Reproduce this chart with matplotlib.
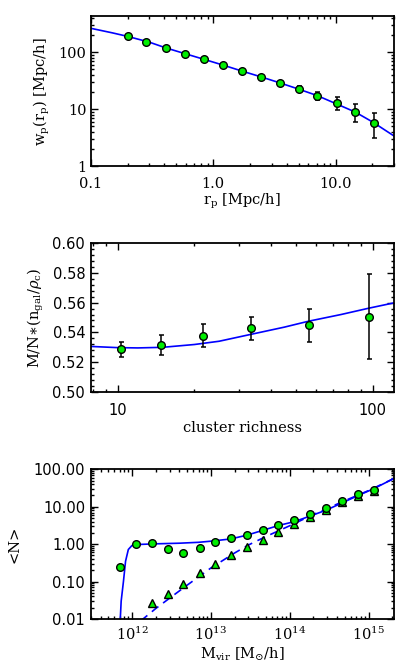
import matplotlib
matplotlib.use("Agg")
import matplotlib.pyplot as plt
from matplotlib.ticker import LogLocator, NullFormatter, FixedLocator, FixedFormatter, MultipleLocator, FormatStrFormatter
import numpy as np

plt.rcParams['mathtext.fontset'] = 'dejavuserif'
plt.rcParams['font.family'] = ['DejaVu Serif']

# ---- Panel 1: projected correlation function ----
rp = [0.2, 0.285, 0.41, 0.59, 0.84, 1.2, 1.71, 2.45, 3.5, 5.0, 7.1, 10.2, 14.5, 20.6]
wp = [190, 151, 117, 93.5, 75.5, 59.5, 46.5, 36.5, 29.0, 22.9, 17.3, 12.7, 9.0, 5.8]
wp_lo = [4, 3, 3, 2.5, 2, 2, 1.5, 1.5, 2, 2.2, 3.0, 2.9, 3.0, 2.7]
wp_hi = [4, 3, 3, 2.5, 2, 2, 1.5, 1.5, 2, 2.2, 2.9, 3.4, 3.2, 2.9]
rp_model = [0.1, 0.15, 0.2, 0.3, 0.41, 0.6, 0.84, 1.2, 1.7, 2.5, 3.5, 5.0, 7.1, 10.0, 14.5, 20.0, 30.0]
wp_model = [262, 218, 189, 150, 119, 93, 75, 59.5, 47, 36.5, 29, 22.5, 17.3, 12.6, 8.9, 6.0, 3.4]

# ---- Panel 2: M/N vs cluster richness ----
rich = [10.3, 14.8, 21.7, 33.4, 56.2, 96.2]
mn = [0.5288, 0.5315, 0.5378, 0.5427, 0.5447, 0.5506]
mn_lo = [0.5236, 0.5247, 0.5303, 0.5348, 0.5335, 0.5222]
mn_hi = [0.5337, 0.5380, 0.5454, 0.5501, 0.5557, 0.5791]
rich_model = [7.85, 10, 12, 15, 20, 25, 33, 45, 56, 75, 96, 122]
mn_model = [0.5305, 0.5297, 0.5295, 0.5299, 0.5318, 0.5340, 0.5385, 0.5435, 0.5475, 0.5520, 0.5562, 0.5600]

# ---- Panel 3: HOD ----
mvir = [7.05e11, 1.12e12, 1.79e12, 2.86e12, 4.5e12, 7.2e12, 1.14e13, 1.82e13, 2.9e13,
        4.57e13, 7.2e13, 1.15e14, 1.82e14, 2.88e14, 4.6e14, 7.25e14, 1.16e15]
n_all = [0.238, 1.04, 1.06, 0.72, 0.59, 0.77, 1.11, 1.42, 1.78, 2.37, 3.22, 4.39, 6.34,
         9.18, 14.4, 21.3, 28.4]
mvir_sat = [1.79e12, 2.86e12, 4.5e12, 7.2e12, 1.14e13, 1.82e13, 2.9e13, 4.57e13, 7.2e13,
            1.15e14, 1.82e14, 2.88e14, 4.6e14, 7.25e14, 1.16e15]
n_sat = [0.026, 0.048, 0.085, 0.168, 0.29, 0.51, 0.85, 1.33, 2.14, 3.36, 5.38, 8.1, 13.0, 19.6, 26.7]
m_tot_model = [7.0e11, 7.3e11, 7.8e11, 8.3e11, 9.0e11, 1.0e12, 1.2e12, 2e12, 4e12, 7e12, 1e13,
               1.8e13, 2.9e13, 4.6e13, 7.2e13, 1.15e14, 1.8e14, 2.9e14, 4.6e14, 7.2e14, 1.15e15, 2.1e15]
n_tot_model = [0.005, 0.03, 0.1, 0.35, 0.72, 0.92, 0.98, 1.02, 1.06, 1.12, 1.2,
               1.38, 1.75, 2.35, 3.15, 4.0, 5.6, 8.1, 12.6, 19.5, 30, 57]
m_sat_model = [1.3e12, 2e12, 3e12, 5e12, 1e13, 2e13, 3e13, 5e13, 1e14, 2e14, 5e14, 1e15, 2.1e15]
n_sat_model = [0.009, 0.019, 0.036, 0.08, 0.23, 0.58, 0.95, 1.6, 3.1, 6.2, 14.5, 27, 57]

fig = plt.figure(figsize=(4.15, 6.72), dpi=100)
W, H = 415.0, 672.0
def axes_px(x0, x1, y0, y1):
    return fig.add_axes([x0 / W, 1 - y1 / H, (x1 - x0) / W, (y1 - y0) / H])

ax1 = axes_px(90.7, 394, 16, 166.3)
ax2 = axes_px(90.7, 394, 243.3, 391.7)
ax3 = axes_px(90.7, 394, 469.3, 619)

green = '#00ee00'
blue = '#0000ff'
SANS = ['DejaVu Sans']
mkw = dict(marker='o', ms=5.5, mfc=green, mec='black', mew=1.0, ls='none', zorder=4)

def style(ax):
    ax.tick_params(which='both', direction='in', top=True, right=True, width=1.0, colors='black')
    ax.tick_params(which='major', length=5)
    ax.tick_params(which='minor', length=2.5)
    for s in ax.spines.values():
        s.set_linewidth(1.3)

LBL = 10.5
TCK = 10.5
STCK = 10.5

# Panel 1
ax1.set_xscale('log'); ax1.set_yscale('log')
ax1.plot(rp_model, wp_model, color=blue, lw=1.2, zorder=2)
ax1.errorbar(rp, wp, yerr=[wp_lo, wp_hi], fmt='none', ecolor='black', elinewidth=1.1, capsize=1.8, capthick=1.1, zorder=3)
ax1.plot(rp, wp, **mkw)
ax1.set_xlim(0.1, 30); ax1.set_ylim(1, 430)
style(ax1)
ax1.xaxis.set_major_locator(FixedLocator([0.1, 1.0, 10.0]))
ax1.xaxis.set_major_formatter(FixedFormatter(['0.1', '1.0', '10.0']))
ax1.yaxis.set_major_locator(FixedLocator([1, 10, 100]))
ax1.yaxis.set_major_formatter(FixedFormatter(['1', '10', '100']))
ax1.xaxis.set_minor_locator(LogLocator(base=10, subs=np.arange(2, 10)))
ax1.yaxis.set_minor_locator(LogLocator(base=10, subs=np.arange(2, 10)))
ax1.xaxis.set_minor_formatter(NullFormatter()); ax1.yaxis.set_minor_formatter(NullFormatter())
ax1.tick_params(axis='x', labelsize=TCK, pad=8)
ax1.tick_params(axis='y', labelsize=TCK, pad=3)
ax1.set_xlabel(r'$\mathrm{r_p}$ [Mpc/h]', fontsize=LBL)
ax1.set_ylabel(r'$\mathrm{w_p(r_p)}$ [Mpc/h]', fontsize=LBL)
ax1.xaxis.label.set_va('center'); ax1.xaxis.set_label_coords(0.5, -0.235)
ax1.yaxis.label.set_va('center'); ax1.yaxis.set_label_coords(-0.16, 0.5)

# Panel 2
ax2.set_xscale('log')
ax2.plot(rich_model, mn_model, color=blue, lw=1.2, zorder=2)
ax2.errorbar(rich, mn, yerr=[np.array(mn) - np.array(mn_lo), np.array(mn_hi) - np.array(mn)],
             fmt='none', ecolor='black', elinewidth=1.1, capsize=1.8, capthick=1.1, zorder=3)
ax2.plot(rich, mn, **mkw)
ax2.set_xlim(7.85, 121); ax2.set_ylim(0.50, 0.60)
style(ax2)
ax2.xaxis.set_major_locator(FixedLocator([10, 100]))
ax2.xaxis.set_major_formatter(FixedFormatter(['10', '100']))
ax2.xaxis.set_minor_locator(LogLocator(base=10, subs=np.arange(2, 10)))
ax2.xaxis.set_minor_formatter(NullFormatter())
ax2.yaxis.set_major_locator(MultipleLocator(0.02))
ax2.yaxis.set_minor_locator(MultipleLocator(0.004))
ax2.yaxis.set_major_formatter(FormatStrFormatter('%.2f'))
ax2.tick_params(axis='x', labelsize=STCK, pad=8)
ax2.tick_params(axis='y', labelsize=STCK, pad=4)
for lab in ax2.get_xticklabels() + ax2.get_yticklabels():
    lab.set_family(SANS)
ax2.set_xlabel('cluster richness', fontsize=LBL)
ax2.set_ylabel(r'M/N$\ast$(n$_{\mathrm{gal}}$/$\rho_{\mathrm{c}}$)', fontsize=LBL)
ax2.xaxis.label.set_va('center'); ax2.xaxis.set_label_coords(0.5, -0.245)
ax2.yaxis.label.set_va('center'); ax2.yaxis.set_label_coords(-0.18, 0.5)

# Panel 3
ax3.set_xscale('log'); ax3.set_yscale('log')
ax3.plot(m_tot_model, n_tot_model, color=blue, lw=1.2, zorder=2)
ax3.plot(m_sat_model, n_sat_model, color=blue, lw=1.2, ls=(0, (5, 3.5)), zorder=2)
ax3.plot(mvir_sat, n_sat, marker='^', ms=5.5, mfc=green, mec='black', mew=1.0, ls='none', zorder=4)
ax3.plot(mvir, n_all, **mkw)
ax3.set_xlim(3.0e11, 2.1e15); ax3.set_ylim(0.01, 100)
style(ax3)
ax3.xaxis.set_major_locator(FixedLocator([1e12, 1e13, 1e14, 1e15]))
ax3.xaxis.set_major_formatter(FixedFormatter([r'$10^{12}$', r'$10^{13}$', r'$10^{14}$', r'$10^{15}$']))
ax3.yaxis.set_major_locator(FixedLocator([0.01, 0.1, 1, 10, 100]))
ax3.yaxis.set_major_formatter(FixedFormatter(['0.01', '0.10', '1.00', '10.00', '100.00']))
ax3.xaxis.set_minor_locator(LogLocator(base=10, subs=np.arange(2, 10)))
ax3.yaxis.set_minor_locator(LogLocator(base=10, subs=np.arange(2, 10)))
ax3.xaxis.set_minor_formatter(NullFormatter()); ax3.yaxis.set_minor_formatter(NullFormatter())
ax3.tick_params(axis='x', labelsize=TCK, pad=5)
ax3.tick_params(axis='y', labelsize=STCK, pad=4)
for lab in ax3.get_yticklabels():
    lab.set_family(SANS)
ax3.set_xlabel(r'$\mathrm{M_{vir}}$ [M$_{\odot}$/h]', fontsize=LBL)
ax3.set_ylabel('<N>', fontsize=LBL)
ax3.xaxis.label.set_va('center'); ax3.xaxis.set_label_coords(0.5, -0.237)
ax3.yaxis.label.set_va('center'); ax3.yaxis.set_label_coords(-0.25, 0.5)

fig.savefig('out.png', dpi=100)
